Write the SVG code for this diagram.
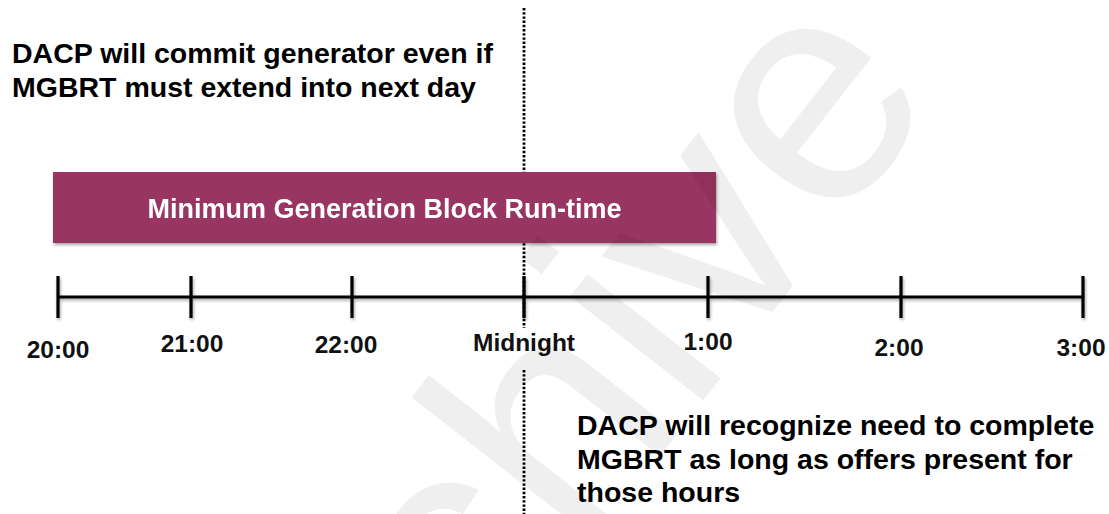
<svg xmlns="http://www.w3.org/2000/svg" width="1109" height="514" viewBox="0 0 1109 514">
  <defs>
    <style>
      .note { font-family: "Liberation Sans", Arial, sans-serif; font-weight: bold; font-size: 28.5px; fill: #000; }
      .lbl { font-family: "Liberation Sans", Arial, sans-serif; font-weight: bold; font-size: 24.5px; fill: #111; text-anchor: middle; }
      .bar { font-family: "Liberation Sans", Arial, sans-serif; font-weight: bold; font-size: 27px; fill: #fff; text-anchor: middle; }
      .axis { stroke: #000; stroke-width: 3.2; fill: none; }
      .dot { stroke: #000; stroke-width: 2.8; stroke-dasharray: 2.4 1.8; fill: none; }
      .wm { font-family: "Liberation Sans", Arial, sans-serif; font-size: 320px; fill: #000; fill-opacity: 0.063; }
    </style>
    <filter id="sh" x="-5%" y="-20%" width="110%" height="150%">
      <feGaussianBlur in="SourceAlpha" stdDeviation="1.5"/>
      <feOffset dx="1" dy="2" result="b"/>
      <feComponentTransfer><feFuncA type="linear" slope="0.35"/></feComponentTransfer>
      <feMerge><feMergeNode/><feMergeNode in="SourceGraphic"/></feMerge>
    </filter>
  </defs>
  <rect width="1109" height="514" fill="#fff"/>

  <g id="connectors">
    <line class="dot" x1="524" y1="8" x2="524" y2="328"/>
    <line class="dot" x1="524" y1="370" x2="524" y2="514"/>
  </g>

  <g id="note-top">
    <text class="note" x="12" y="63">DACP will commit generator even if</text>
    <text class="note" x="12" y="97">MGBRT must extend into next day</text>
  </g>

  <g id="mgbrt-block" filter="url(#sh)">
    <rect x="53" y="172" width="663" height="71" fill="#993462"/>
    <text class="bar" x="384.5" y="218">Minimum Generation Block Run-time</text>
  </g>

  <g id="timeline" filter="url(#sh)">
    <line class="axis" x1="58" y1="297" x2="1083" y2="297"/>
    <line class="axis" x1="58" y1="276" x2="58" y2="318"/>
    <line class="axis" x1="191" y1="276" x2="191" y2="318"/>
    <line class="axis" x1="352" y1="276" x2="352" y2="318"/>
    <line class="axis" x1="524" y1="276" x2="524" y2="318"/>
    <line class="axis" x1="708" y1="276" x2="708" y2="318"/>
    <line class="axis" x1="901" y1="276" x2="901" y2="318"/>
    <line class="axis" x1="1083" y1="276" x2="1083" y2="318"/>
  </g>

  <g id="labels">
    <text class="lbl" x="58" y="358">20:00</text>
    <text class="lbl" x="192" y="352">21:00</text>
    <text class="lbl" x="346" y="353">22:00</text>
    <text class="lbl" x="524" y="351">Midnight</text>
    <text class="lbl" x="708" y="350">1:00</text>
    <text class="lbl" x="899" y="356">2:00</text>
    <text class="lbl" x="1081" y="356">3:00</text>
  </g>

  <g id="note-bottom">
    <text class="note" x="577" y="435">DACP will recognize need to complete</text>
    <text class="note" x="577" y="469">MGBRT as long as offers present for</text>
    <text class="note" x="577" y="502">those hours</text>
  </g>

  <g id="watermark">
    <text class="wm" x="942" y="95" text-anchor="end" transform="rotate(-52 942 95)">Archive</text>
  </g>
</svg>
